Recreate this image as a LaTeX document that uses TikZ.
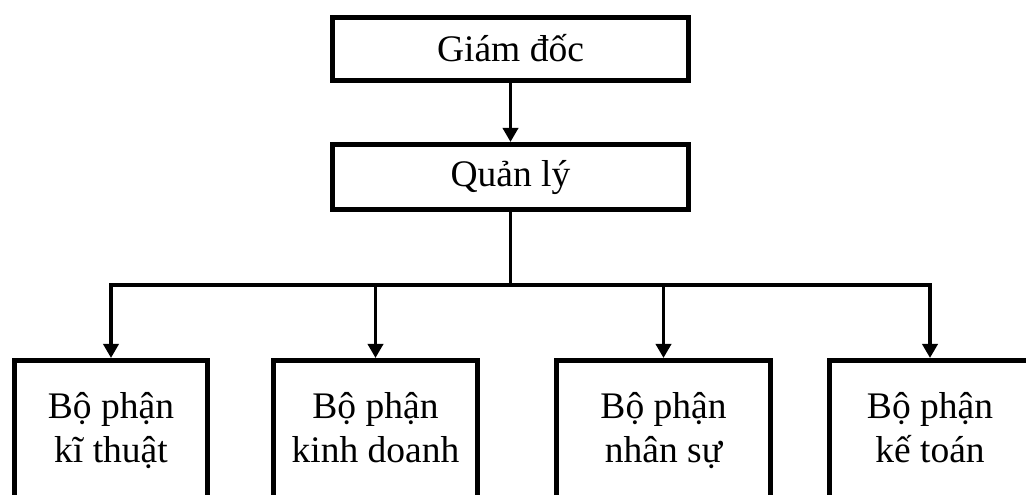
\documentclass[tikz,border=0pt]{standalone}
\usepackage{fontspec}
\setmainfont{Liberation Serif}
\usetikzlibrary{arrows.meta}
\begin{document}
\begin{tikzpicture}[x=1pt,y=1pt,
  box/.style={draw, line width=5pt, inner sep=0pt, align=center,
    font=\fontsize{37.5}{44}\selectfont},
  link/.style={line width=3.8pt},
  tip/.style={link, -{Triangle[width=15pt,length=14pt]}}]
\useasboundingbox (0,0) rectangle (1026,495);
\clip (0,0) rectangle (1026,495);
% top levels
\node[box, minimum width=356pt, minimum height=63pt,
  text height=32pt, text depth=6pt] (gd) at (510.5,446) {Giám đốc};
\node[box, minimum width=356pt, minimum height=65pt,
  text height=30pt, text depth=11pt] (ql) at (510.5,318) {Quản lý};
% departments (run past the lower edge)
\node[box, minimum width=193pt, minimum height=143pt] (b1) at (111,63) {\strut Bộ phận\\\strut kĩ thuật};
\node[box, minimum width=204pt, minimum height=143pt] (b2) at (375.5,63) {\strut Bộ phận\\\strut kinh doanh};
\node[box, minimum width=214pt, minimum height=143pt] (b3) at (663.5,63) {\strut Bộ phận\\\strut nhân sự};
\node[box, minimum width=201pt, minimum height=143pt] (b4) at (930,63) {\strut Bộ phận\\\strut kế toán};
% connectors
\coordinate (j) at (510.5,210);
\draw[tip] (gd) -- (ql);
\draw[link] (ql) -- (j);
\draw[tip] (j) -| (b1);
\draw[tip] (j) -| (b4);
\draw[tip] (b2.north |- j) -- (b2);
\draw[tip] (b3.north |- j) -- (b3);
\end{tikzpicture}
\end{document}
